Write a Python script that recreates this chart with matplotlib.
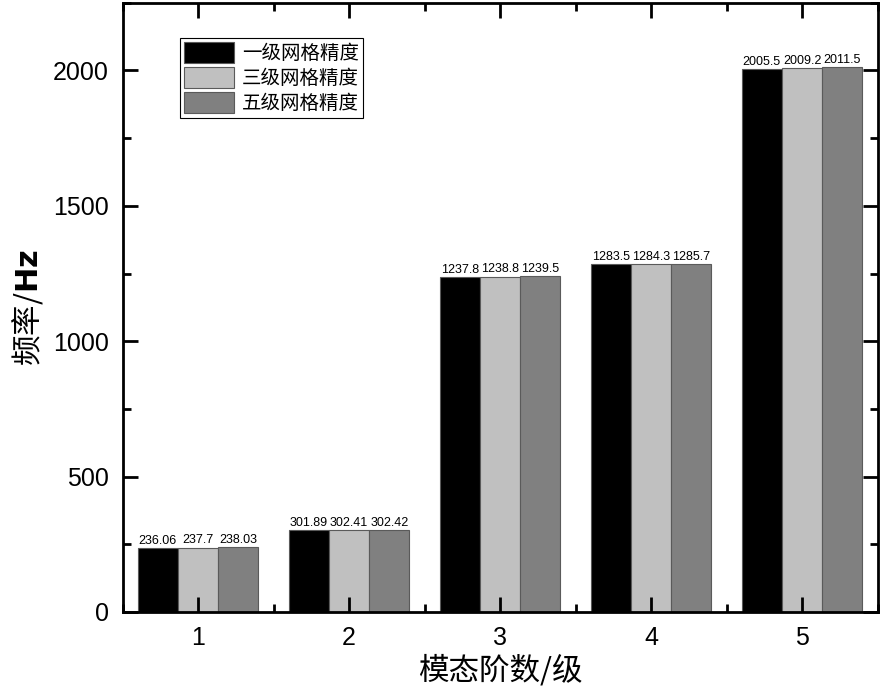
import numpy as np
import matplotlib
matplotlib.use("Agg")
import matplotlib.pyplot as plt
from matplotlib.ticker import MultipleLocator

plt.rcParams['font.family'] = ['Liberation Sans', 'Noto Sans CJK SC', 'DejaVu Sans']

#--- Data ---#
modes = [1, 2, 3, 4, 5]
series_names = ['一级网格精度', '三级网格精度', '五级网格精度']
level1 = [236.06, 301.89, 1237.8, 1283.5, 2005.5]
level3 = [237.7, 302.41, 1238.8, 1284.3, 2009.2]
level5 = [238.03, 302.42, 1239.5, 1285.7, 2011.5]
labels1 = ['236.06', '301.89', '1237.8', '1283.5', '2005.5']
labels3 = ['237.7', '302.41', '1238.8', '1284.3', '2009.2']
labels5 = ['238.03', '302.42', '1239.5', '1285.7', '2011.5']

colors = ['#000000', '#C0C0C0', '#808080']

#--- Figure ---#
fig = plt.figure(figsize=(8.82, 6.93), dpi=100)
ax = fig.add_axes([0.139, 0.117, 0.856, 0.879])

x = np.array(modes, dtype=float)
w = 0.8 / 3
all_vals = [level1, level3, level5]
all_labels = [labels1, labels3, labels5]

for i, (vals, labs) in enumerate(zip(all_vals, all_labels)):
    pos = x + (i - 1) * w
    bars = ax.bar(pos, vals, width=w, color=colors[i], edgecolor='#5a5a5a',
                  linewidth=0.8, label=series_names[i])
    for b, lab in zip(bars, labs):
        ax.text(b.get_x() + b.get_width() / 2, b.get_height() + 4, lab,
                ha='center', va='bottom', fontsize=9)

ax.set_xlim(0.5, 5.5)
ax.set_ylim(0, 2250)
ax.set_xticks(modes)
ax.xaxis.set_minor_locator(MultipleLocator(0.5))
ax.yaxis.set_major_locator(MultipleLocator(500))
ax.yaxis.set_minor_locator(MultipleLocator(250))

ax.tick_params(which='both', direction='in', top=True, right=True, width=2)
ax.tick_params(which='major', length=11, labelsize=18, pad=10)
ax.tick_params(which='minor', length=6)
ax.tick_params(axis='x', which='both', labeltop=False)
ax.tick_params(axis='y', labelright=False)
for sp in ax.spines.values():
    sp.set_linewidth(2)

ax.set_xlabel('模态阶数/级', fontsize=22, family=['Noto Sans CJK SC', 'DejaVu Sans'], labelpad=4)
ax.set_ylabel('频率/$\\mathbf{Hz}$', fontsize=22, family=['Noto Sans CJK SC', 'DejaVu Sans'], labelpad=6)

leg = ax.legend(loc='upper left', bbox_to_anchor=(0.076, 0.942),
                prop={'family': ['Noto Sans CJK SC', 'DejaVu Sans'], 'size': 14},
                fancybox=False, framealpha=1, edgecolor='black',
                handlelength=2.6, handleheight=1.3, handletextpad=0.4,
                labelspacing=0.15, borderpad=0.2, borderaxespad=0)
leg.get_frame().set_linewidth(0.8)

fig.savefig('out.png', dpi=100)
